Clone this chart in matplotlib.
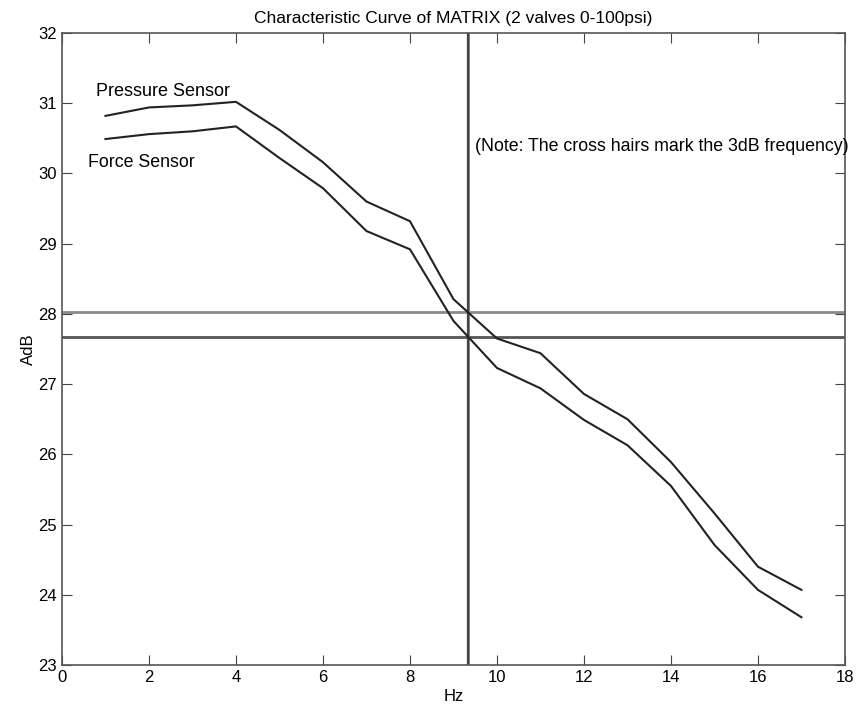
import numpy as np
import matplotlib.pyplot as plt

plt.rcParams['font.family'] = ['Liberation Sans', 'DejaVu Sans']

# data
hz = [1, 2, 3, 4, 5, 6, 7, 8, 9, 10, 11, 12, 13, 14, 15, 16, 17]
pressure = [30.82, 30.94, 30.97, 31.02, 30.62, 30.16, 29.6, 29.32, 28.21, 27.65,
            27.44, 26.86, 26.5, 25.89, 25.16, 24.4, 24.07]
force = [30.49, 30.56, 30.6, 30.67, 30.22, 29.79, 29.18, 28.92, 27.9, 27.23,
         26.94, 26.49, 26.13, 25.55, 24.71, 24.07, 23.68]

# 3dB points (max - 3) and where each curve crosses them
p_level = max(pressure) - 3
f_level = max(force) - 3
p_freq = np.interp(-p_level, -np.array(pressure), hz)
f_freq = np.interp(-f_level, -np.array(force), hz)

fig = plt.figure(figsize=(8.63, 7.13), dpi=100)
ax = fig.add_axes([0.0718, 0.0673, 0.9073, 0.8864])

ax.axhline(p_level, color='#8a8a8a', lw=2, zorder=1)
ax.axhline(f_level, color='#555555', lw=2, zorder=1)
ax.axvline(p_freq, color='#8a8a8a', lw=2.2, zorder=1)
ax.axvline(f_freq, color='#444444', lw=1.6, zorder=1)

ax.plot(hz, pressure, color='#222222', lw=1.5, zorder=2)
ax.plot(hz, force, color='#222222', lw=1.5, zorder=2)

ax.text(0.78, 31.17, 'Pressure Sensor', fontsize=13, va='center')
ax.text(0.6, 30.15, 'Force Sensor', fontsize=12.8, va='center')
ax.text(9.5, 30.39, '(Note: The cross hairs mark the 3dB frequency)', fontsize=12.8,
        va='center', clip_on=False)

ax.set_xlim(0, 18)
ax.set_ylim(23, 32)
ax.set_xticks(range(0, 19, 2))
ax.set_yticks(range(23, 33))
ax.tick_params(direction='in', top=True, right=True, length=7, labelsize=12,
               color='#444444')
for s in ax.spines.values():
    s.set_color('#555555')
    s.set_linewidth(1.2)

ax.set_xlabel('Hz', fontsize=12, labelpad=3)
ax.set_ylabel('AdB', fontsize=12, labelpad=2)
ax.set_title('Characteristic Curve of MATRIX (2 valves 0-100psi)', fontsize=12.5, pad=7)

fig.savefig('out.png', dpi=100)
